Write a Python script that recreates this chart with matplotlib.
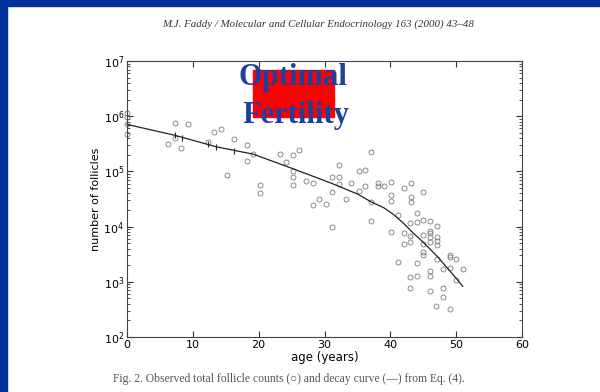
import numpy as np
import matplotlib
matplotlib.use("Agg")
import matplotlib.pyplot as plt
from matplotlib.patches import Rectangle

# observed follicle counts (age in years, count)
ages = [0, 0, 0, 0, 6.2, 7.3, 7.3, 8.2, 9.2, 12.3, 13.2, 14.3, 15.2, 16.3,
        18.2, 18.2, 19.2, 20.2, 20.2, 23.3, 24.2, 25.2, 26.2, 25.2, 25.2, 25.2,
        27.2, 28.2, 28.2, 29.2, 30.2, 31.2, 31.2, 31.2, 32.2, 32.2, 32.2, 33.2,
        34.1, 35.2, 35.2, 36.2, 36.2, 37.1, 37.1, 37.1, 38.1, 38.1, 39.1, 40.1,
        40.1, 40.1, 40.1, 41.1, 41.1, 42.0, 43.1, 43.1, 43.1, 42.0, 42.0, 43.0,
        43.0, 43.0, 43.0, 43.0, 44.1, 44.1, 44.0, 44.0, 45.0, 45.0, 45.0, 45.0,
        45.0, 45.0, 46.0, 46.0, 46.0, 46.0, 46.0, 46.0, 46.0, 46.0, 47.1, 47.1,
        47.1, 47.1, 47.1, 47.0, 48.0, 48.0, 48.0, 49.0, 49.0, 49.0, 49.0, 50.0,
        50.0, 51.1]
counts = [1.12e6, 9.5e5, 7.1e5, 4.7e5, 3.2e5, 7.5e5, 4.1e5, 2.7e5, 7.1e5,
          3.4e5, 5.1e5, 5.9e5, 8.7e4, 3.9e5, 3.05e5, 1.55e5, 2.1e5, 5.6e4,
          4.0e4, 2.1e5, 1.48e5, 1.95e5, 2.4e5, 1.0e5, 7.9e4, 5.6e4, 6.6e4,
          6.2e4, 2.5e4, 3.1e4, 2.6e4, 7.9e4, 4.3e4, 1.0e4, 1.3e5, 7.9e4, 6.0e4,
          3.1e4, 6.2e4, 1.02e5, 4.4e4, 1.05e5, 5.4e4, 2.2e5, 2.8e4, 1.26e4,
          6.2e4, 5.4e4, 5.4e4, 6.5e4, 3.7e4, 2.9e4, 8.1e3, 1.6e4, 2.3e3, 5.0e4,
          6.2e4, 3.4e4, 2.8e4, 7.7e3, 4.9e3, 1.17e4, 6.7e3, 5.3e3, 1.2e3, 760,
          1.8e4, 1.2e4, 2.2e3, 1.3e3, 4.3e4, 1.3e4, 7.1e3, 4.8e3, 3.4e3, 3.0e3,
          1.27e4, 8.3e3, 7.7e3, 6.5e3, 5.3e3, 1.58e3, 1.26e3, 690, 1.03e4,
          6.5e3, 5.5e3, 4.7e3, 2.6e3, 370, 1.7e3, 780, 535, 3.0e3, 2.8e3,
          1.8e3, 316, 2.6e3, 1.1e3, 1.74e3]

# decay curve
curve_age = [0, 7.3, 13.5, 19.2, 25.2, 31.2, 35.0, 37.1, 39.0, 40.5, 42.0,
             43.5, 45.0, 47.1, 49.1, 51.0]
curve_val = [7.1e5, 4.5e5, 2.8e5, 2.05e5, 1.12e5, 6.0e4, 3.9e4, 2.8e4, 2.2e4,
             1.65e4, 1.15e4, 7.6e3, 5.2e3, 2.9e3, 1.55e3, 8.3e2]

# little vertical marks on the curve
mark_age = [7.3, 8.3, 12.3, 13.5, 16.2]
mark_val = [4.5e5, 4.1e5, 3.2e5, 2.8e5, 2.35e5]

W, H = 600, 392
fig = plt.figure(figsize=(W / 100, H / 100), dpi=100)
fig.patch.set_facecolor("white")

def fx(px):
    return px / W

def fy(py):
    return 1 - py / H

# blue slide frame
fig.patches.append(Rectangle((0, fy(6)), 1, 6 / H, transform=fig.transFigure,
                             color="#003399", zorder=0))
fig.patches.append(Rectangle((0, 0), 7 / W, 1, transform=fig.transFigure,
                             color="#003399", zorder=0))

ax = fig.add_axes([fx(127), fy(337), fx(522) - fx(127), fy(61) - fy(337)])
ax.set_yscale("log")
ax.set_xlim(0, 60)
ax.set_ylim(1e2, 1e7)

ax.plot(ages, counts, "o", ms=3.6, mfc="none", mec="#7a7a7a", mew=0.6,
        clip_on=False)
ax.plot(curve_age, curve_val, "-", color="#222222", lw=0.9, clip_on=False)
ax.plot(mark_age, mark_val, "|", color="#222222", ms=4, mew=0.8)

ax.set_xticks([0, 10, 20, 30, 40, 50, 60])
ax.tick_params(which="both", direction="in", top=True, right=True,
               labelsize=8, color="#333333", pad=2)
ax.tick_params(which="major", length=4)
ax.tick_params(which="minor", length=2)
for s in ax.spines.values():
    s.set_color("#444444")
    s.set_linewidth(0.8)

ax.set_xlabel("age (years)", fontsize=8.5, labelpad=1)
ax.set_ylabel("number of follicles", fontsize=8, labelpad=2)

# journal header and caption
fig.text(fx(318), fy(24), "M.J. Faddy / Molecular and Cellular Endocrinology 163 (2000) 43\u201348",
         ha="center", va="center", fontsize=7.8, style="italic",
         family="Liberation Serif", color="#333333")
fig.text(fx(289), fy(379),
         "Fig. 2. Observed total follicle counts (\u25cb) and decay curve (\u2014) from Eq. (4).",
         ha="center", va="center", fontsize=8.4, family=["Liberation Serif", "DejaVu Sans"],
         color="#555555")

# red highlight box with overlay text
fig.patches.append(Rectangle((fx(253), fy(117)), fx(334) - fx(253), fy(70) - fy(117),
                             transform=fig.transFigure, color="#ff0000", zorder=5))
fig.text(fx(293), fy(78), "Optimal", ha="center", va="center", fontsize=22,
         weight="bold", family="Liberation Serif", color="#1f3f9f", zorder=6)
fig.text(fx(296), fy(115), "Fertility", ha="center", va="center", fontsize=22,
         weight="bold", family="Liberation Serif", color="#1f3f9f", zorder=6)

fig.savefig("out.png", dpi=100)
